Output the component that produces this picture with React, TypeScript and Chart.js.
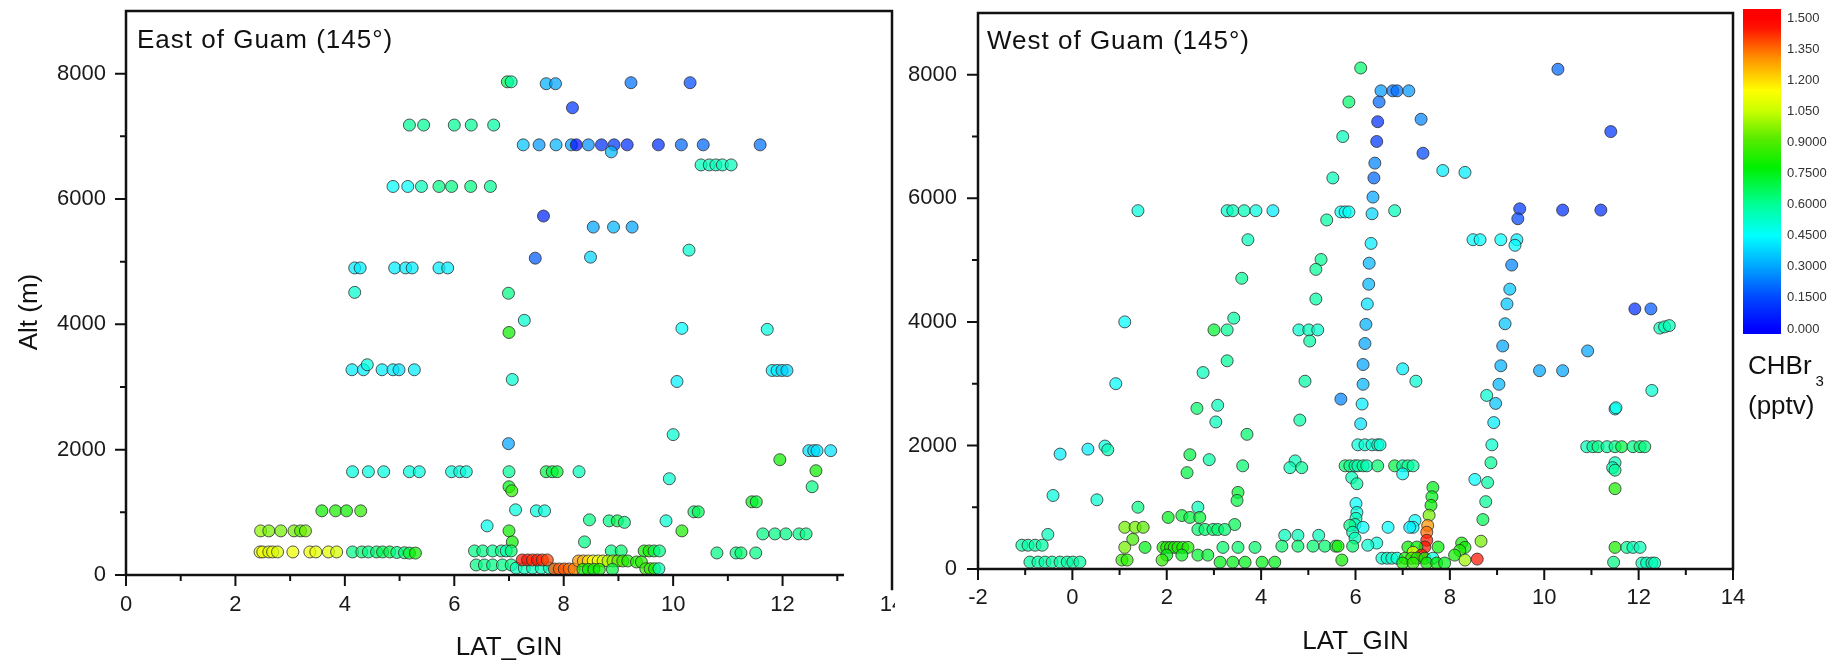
import React, { useEffect, useRef } from 'react';
import { Chart, registerables } from 'chart.js';

Chart.register(...registerables);

const FONT = "'Liberation Sans', Arial, Helvetica, sans-serif";

// ---------- East of Guam ----------
const eastLat = [
  5.18, 5.44, 6.0, 6.31, 6.72,
  4.88, 5.15, 5.4, 5.72, 5.95, 6.3, 6.66,
  4.18, 4.28, 4.91, 5.11, 5.23, 5.72, 5.88, 4.18,
  4.13, 4.34, 4.41, 4.68, 4.88, 4.99, 5.27,
  4.14, 4.43, 4.71, 5.18, 5.36, 5.95, 6.1, 6.22, 7.0, 7.68, 7.79, 7.88, 8.28,
  3.58, 3.83, 4.03, 4.29, 2.46, 2.61, 2.83, 3.07, 3.19, 3.28,
  2.45, 2.5, 2.61, 2.68, 2.77, 3.05, 3.36, 3.47, 3.7, 3.85,
  4.14, 4.31, 4.43, 4.58, 4.69, 4.82, 4.95, 5.09, 5.18, 5.29,
  6.97, 7.04, 7.68, 7.85, 9.23, 10.31, 8.16,
  7.26, 7.55, 7.86, 8.14, 8.23, 8.45, 8.69, 8.92, 9.16, 9.73, 10.15, 10.55, 11.59, 8.87,
  10.51, 10.66, 10.78, 10.9, 11.06, 7.63, 8.54, 8.91, 9.25, 7.48, 8.49, 10.29,
  6.99, 7.28, 7.0, 10.16, 11.72, 7.06, 10.07, 11.81, 11.9, 11.99, 12.08, 10.0, 6.99,
  12.48, 12.57, 12.63, 12.88, 11.95, 12.61, 7.0, 7.05, 12.54, 9.93,
  7.12, 7.5, 7.65, 11.44, 11.52, 10.38, 10.46, 6.6, 7.0, 7.06, 9.87, 8.47, 8.83, 8.98, 9.11, 10.16, 8.38,
  11.64, 11.86, 12.06, 12.3, 12.43, 10.8, 11.15, 11.24, 11.51,
  6.37, 6.52, 6.7, 6.86, 6.95, 7.04, 8.87, 9.05, 9.47, 9.56, 9.65, 9.75,
  6.4, 6.55, 6.7, 6.88, 7.04, 7.13, 7.28, 7.43, 7.59, 7.74,
  7.24, 7.34, 7.43, 7.52, 7.61, 7.7, 7.83, 7.92, 8.01, 8.1, 8.19,
  8.27, 8.36, 8.45, 8.54, 8.63, 8.72, 8.81, 8.9, 8.99, 9.08, 9.17, 9.33, 9.42,
  8.35, 8.45, 8.55, 8.65, 8.89, 9.5, 9.58, 9.66, 9.74,
];
const eastAlt = [
  7180, 7180, 7180, 7180, 7180,
  6200, 6200, 6200, 6200, 6200, 6200, 6200,
  4900, 4900, 4900, 4900, 4900, 4900, 4900, 4510,
  3275, 3275, 3355, 3275, 3275, 3275, 3275,
  1648, 1648, 1648, 1648, 1648, 1648, 1648, 1648, 1648, 1648, 1648, 1648, 1648,
  1024, 1024, 1024, 1024, 704, 704, 704, 704, 704, 704,
  368, 368, 368, 368, 368, 368, 368, 368, 368, 368,
  368, 368, 368, 368, 368, 368, 360, 355, 350, 350,
  7870, 7870, 7840, 7840, 7856, 7856, 7456,
  6864, 6864, 6864, 6864, 6864, 6864, 6864, 6864, 6864, 6864, 6864, 6864, 6864, 6752,
  6544, 6544, 6544, 6544, 6544, 5728, 5552, 5552, 5552, 5056, 5072, 5184,
  4496, 4064, 3870, 3936, 3920, 3120, 3088, 3264, 3264, 3264, 3264, 2240, 2096,
  1984, 1984, 1984, 1984, 1840, 1664, 1408, 1344, 1408, 1536,
  1040, 1024, 1024, 1168, 1168, 1008, 1008, 784, 704, 528, 864, 880, 864, 864, 840, 704, 528,
  656, 656, 656, 656, 656, 352, 352, 352, 352,
  384, 384, 384, 384, 384, 384, 384, 384, 384, 384, 384, 384,
  160, 160, 160, 160, 160, 110, 110, 110, 110, 110,
  240, 240, 240, 240, 240, 240, 96, 96, 96, 96, 96,
  224, 224, 224, 224, 224, 224, 224, 224, 224, 224, 224, 208, 208,
  90, 90, 90, 90, 90, 100, 100, 100, 100,
];
const eastChbr3 = [
  0.6, 0.6, 0.6, 0.6, 0.58,
  0.45, 0.45, 0.55, 0.62, 0.62, 0.62, 0.6,
  0.42, 0.42, 0.42, 0.42, 0.42, 0.42, 0.42, 0.52,
  0.42, 0.42, 0.5, 0.42, 0.42, 0.4, 0.42,
  0.5, 0.5, 0.5, 0.5, 0.5, 0.5, 0.5, 0.5, 0.6, 0.7, 0.7, 0.72, 0.55,
  0.8, 0.82, 0.8, 0.85, 0.98, 0.95, 0.95, 0.95, 0.9, 0.95,
  1.1, 1.12, 1.1, 1.12, 1.08, 1.12, 1.12, 1.1, 1.1, 1.08,
  0.62, 0.65, 0.62, 0.65, 0.68, 0.7, 0.62, 0.65, 0.72, 0.8,
  0.68, 0.58, 0.32, 0.3, 0.22, 0.16, 0.12,
  0.35, 0.28, 0.33, 0.3, 0.03, 0.27, 0.1, 0.12, 0.1, 0.1, 0.2, 0.2, 0.22, 0.33,
  0.55, 0.55, 0.55, 0.55, 0.55, 0.08, 0.3, 0.33, 0.3, 0.18, 0.38, 0.52,
  0.62, 0.52, 0.8, 0.45, 0.5, 0.52, 0.43, 0.42, 0.42, 0.38, 0.38, 0.52, 0.3,
  0.4, 0.4, 0.4, 0.4, 0.8, 0.8, 0.75, 0.85, 0.62, 0.52,
  0.5, 0.5, 0.5, 0.75, 0.72, 0.65, 0.68, 0.48, 0.8, 0.8, 0.52, 0.62, 0.62, 0.7, 0.62, 0.82, 0.62,
  0.62, 0.62, 0.62, 0.62, 0.62, 0.62, 0.62, 0.65, 0.62,
  0.62, 0.62, 0.6, 0.62, 0.55, 0.65, 0.62, 0.65, 0.8, 0.82, 0.7, 0.62,
  0.62, 0.62, 0.62, 0.62, 0.62, 0.55, 0.55, 0.55, 0.55, 0.55,
  1.45, 1.45, 1.42, 1.45, 1.42, 1.4, 1.38, 1.36, 1.38, 1.35, 1.33,
  1.3, 1.25, 1.2, 1.15, 1.12, 1.08, 1.02, 0.98, 0.92, 0.88, 0.82, 0.82, 0.85,
  0.8, 0.8, 0.8, 0.8, 0.7, 0.85, 0.85, 0.82, 0.55,
];

// ---------- West of Guam ----------
const westLat = [
  6.11, 10.29, 6.54, 6.79, 6.88, 7.13, 6.5, 5.86, 6.47, 7.39, 11.41,
  5.73, 6.45, 7.43, 6.41, 7.85, 8.32, 6.39, 5.52, 6.37, 6.35, 6.83,
  5.69, 5.78, 5.86, 5.39, 9.48, 9.44, 10.39, 11.2,
  1.39, 3.28, 3.4, 3.64, 3.89, 4.25, 3.72, 8.49, 8.64, 9.08, 9.42, 9.38, 6.33,
  5.27, 5.16, 9.31, 6.29, 3.59, 6.28, 9.27, 5.16, 6.25, 9.21, 11.92, 12.26, 3.42, 1.11, 6.22, 9.17,
  3.0, 3.28, 4.8, 5.01, 5.2, 5.03, 12.45, 12.55, 12.65, 6.2, 9.12, 10.92,
  3.28, 6.16, 9.08, 7.0, 9.9, 10.39, 2.77, 4.93, 7.28, 0.92, 6.16, 9.04, 12.28, 8.78,
  5.69, 8.97, 6.14, 3.08, 2.64, 11.5, 11.52, 3.04, 4.82, 6.11, 8.93, 3.7,
  6.05, 6.2, 6.35, 6.47, 6.52, 8.89, 10.9, 11.03, 11.14, 11.33, 11.5, 11.64, 11.88, 12.03, 12.13,
  0.33, 0.69, 0.75, -0.26, 2.49, 2.9, 4.72, 4.61, 4.86, 3.61, 11.5, 11.45, 11.5, 8.87,
  5.78, 5.88, 5.99, 6.05, 6.16, 6.24, 6.47, 6.83, 7.0, 7.11, 7.22,
  7.0, 2.43, 5.92, 6.03, 8.53, 8.8, 7.64, 11.5, 3.51, 3.49, -0.41, 0.52, 7.62, 8.76, 6.01, 7.6,
  1.39, 2.66, 6.03, 7.56, 2.03, 2.32, 2.49, 2.7, 6.01, 8.7, 7.26, 3.44, 5.99, 5.88, 7.53,
  1.11, 1.33, 1.5, 6.16, 6.69, 7.22, 7.15, 2.66, 2.81, 2.98, 3.08, 3.23, 5.94, 7.51,
  -0.52, 4.5, 4.78, 5.22, 5.99, 1.28, 7.51, 8.66, 8.25, 6.45, -1.07, -0.94, -0.79, -0.64, 6.26,
  4.44, 4.78, 5.1, 5.35, 5.58, 5.63, 5.94, 1.92, 2.0, 2.08, 2.16, 2.24, 2.34, 2.45, 1.11, 1.54, 3.19, 3.51, 3.87,
  7.47, 8.32, 7.11, 7.3, 7.75, 11.5, 11.75, 11.88, 12.03, 8.21, 7.22, 2.0, 2.32, 2.66, 2.87, 8.1, 7.4,
  6.56, 6.67, 6.77, 6.88, 7.05, 7.19, 7.3, 7.47, 7.64, 8.58, 8.32, 1.05, 1.16, 1.9, 5.71,
  -0.9, -0.73, -0.58, -0.43, -0.26, -0.11, 0.01, 0.16, 3.13, 3.4, 3.66, 4.02, 4.29, 11.47,
  12.07, 12.17, 12.28, 12.34, 7.0, 7.22, 7.51, 7.72, 7.89,
];
const westAlt = [
  8110, 8090, 7740, 7740, 7740, 7740, 7560, 7560, 7240, 7280, 7080,
  7000, 6920, 6730, 6570, 6450, 6420, 6330, 6330, 6020, 5750, 5800,
  5780, 5780, 5780, 5650, 5830, 5670, 5810, 5810,
  5800, 5800, 5800, 5800, 5800, 5800, 5330, 5330, 5330, 5330, 5330, 5240, 5270,
  5010, 4850, 4920, 4950, 4706, 4610, 4530, 4370, 4290, 4290, 4210, 4210, 4060, 4000, 3960, 3970,
  3870, 3870, 3870, 3870, 3870, 3690, 3900, 3920, 3940, 3650, 3610, 3530,
  3370, 3310, 3290, 3240, 3210, 3210, 3180, 3040, 3040, 3000, 2990, 2990, 2890, 2810,
  2750, 2680, 2670, 2650, 2600, 2590, 2610, 2380, 2410, 2350, 2370, 2180,
  2010, 2010, 2010, 2010, 2010, 2010, 1980, 1980, 1980, 1980, 1980, 1980, 1980, 1980, 1980,
  1940, 1990, 1930, 1860, 1850, 1770, 1750, 1640, 1640, 1670, 1720, 1640, 1600, 1720,
  1670, 1670, 1670, 1670, 1670, 1670, 1670, 1670, 1670, 1670, 1670,
  1540, 1560, 1480, 1380, 1450, 1400, 1320, 1300, 1240, 1110, 1190, 1120, 1170, 1090, 1060, 1030,
  1000, 1000, 915, 870, 835, 865, 835, 835, 820, 800, 785, 720, 720, 705, 705,
  675, 675, 675, 675, 675, 675, 675, 640, 640, 640, 640, 640, 595, 595,
  560, 545, 545, 545, 500, 480, 465, 450, 420, 420, 385, 385, 385, 385, 385,
  370, 370, 370, 370, 370, 370, 370, 350, 350, 350, 350, 350, 350, 350, 350, 350, 350, 350, 350,
  355, 350, 355, 355, 355, 350, 350, 350, 350, 300, 270, 225, 225, 225, 225, 225, 225,
  175, 175, 175, 175, 175, 175, 175, 175, 175, 160, 145, 145, 145, 145, 145,
  112, 112, 112, 112, 112, 112, 112, 112, 110, 110, 110, 110, 110, 110,
  96, 96, 96, 96, 96, 96, 96, 96, 96,
];
const westChbr3 = [
  0.65, 0.2, 0.28, 0.22, 0.22, 0.28, 0.2, 0.65, 0.1, 0.25, 0.12,
  0.55, 0.12, 0.15, 0.25, 0.42, 0.42, 0.2, 0.55, 0.3, 0.38, 0.55,
  0.47, 0.45, 0.47, 0.58, 0.12, 0.15, 0.1, 0.1,
  0.5, 0.52, 0.55, 0.55, 0.5, 0.42, 0.55, 0.45, 0.45, 0.45, 0.42, 0.45, 0.42,
  0.6, 0.6, 0.25, 0.33, 0.6, 0.33, 0.35, 0.58, 0.4, 0.35, 0.1, 0.18, 0.58, 0.45, 0.32, 0.35,
  0.72, 0.6, 0.52, 0.55, 0.52, 0.58, 0.55, 0.55, 0.55, 0.3, 0.3, 0.3,
  0.6, 0.3, 0.32, 0.42, 0.3, 0.3, 0.55, 0.58, 0.52, 0.45, 0.33, 0.33, 0.52, 0.52,
  0.25, 0.35, 0.42, 0.55, 0.65, 0.45, 0.48, 0.55, 0.58, 0.4, 0.42, 0.65,
  0.5, 0.52, 0.5, 0.55, 0.5, 0.52, 0.55, 0.6, 0.62, 0.58, 0.62, 0.7, 0.62, 0.65, 0.62,
  0.42, 0.5, 0.55, 0.42, 0.7, 0.58, 0.55, 0.55, 0.6, 0.65, 0.55, 0.55, 0.6, 0.6,
  0.65, 0.62, 0.55, 0.58, 0.6, 0.55, 0.65, 0.7, 0.58, 0.62, 0.58,
  0.45, 0.7, 0.55, 0.58, 0.45, 0.58, 0.75, 0.82, 0.72, 0.7, 0.5, 0.52, 0.75, 0.6, 0.45, 0.78,
  0.62, 0.55, 0.5, 0.95, 0.75, 0.72, 0.7, 0.72, 0.55, 0.68, 0.45, 0.68, 0.55, 0.62, 1.3,
  0.95, 0.95, 0.92, 0.45, 0.45, 0.45, 0.42, 0.65, 0.65, 0.65, 0.65, 0.65, 0.55, 1.35,
  0.55, 0.55, 0.55, 0.55, 0.55, 0.88, 1.45, 0.95, 0.8, 0.5, 0.58, 0.58, 0.58, 0.58, 0.52,
  0.65, 0.65, 0.65, 0.65, 0.7, 0.82, 0.65, 0.82, 0.82, 0.82, 0.82, 0.82, 0.82, 0.82, 0.95, 0.75, 0.65, 0.65, 0.65,
  1.45, 0.8, 0.78, 0.78, 0.78, 0.82, 0.6, 0.55, 0.55, 0.82, 1.12, 0.75, 0.75, 0.72, 0.72, 0.8, 1.45,
  0.52, 0.52, 0.52, 0.52, 0.82, 0.85, 0.82, 0.8, 0.5, 1.45, 1.0, 0.85, 0.85, 0.85, 0.8,
  0.58, 0.58, 0.58, 0.58, 0.58, 0.58, 0.58, 0.58, 0.75, 0.75, 0.75, 0.75, 0.75, 0.62,
  0.55, 0.55, 0.55, 0.55, 0.82, 0.85, 0.8, 0.78, 0.75,
];

// ---------- Axis tick values ----------
const altTicks = [0, 2000, 4000, 6000, 8000];
const eastLatTicks = [0, 2, 4, 6, 8, 10, 12, 14];
const westLatTicks = [-2, 0, 2, 4, 6, 8, 10, 12, 14];

// ---------- Colour scale ----------
const colorbarLabels = ['1.500', '1.350', '1.200', '1.050', '0.9000', '0.7500', '0.6000', '0.4500', '0.3000', '0.1500', '0.000'];
const colorStops: [number, number[]][] = [
  [0.0, [0, 0, 255]],
  [0.15, [0, 70, 255]],
  [0.3, [0, 165, 255]],
  [0.45, [0, 255, 255]],
  [0.6, [0, 255, 150]],
  [0.78, [0, 240, 0]],
  [0.92, [90, 235, 0]],
  [1.05, [200, 255, 0]],
  [1.15, [255, 255, 0]],
  [1.3, [255, 150, 0]],
  [1.45, [255, 20, 0]],
  [1.5, [255, 0, 0]],
];

function colormap(v: number, alpha = 1): string {
  const val = Math.max(0, Math.min(1.5, v));
  for (let i = 0; i < colorStops.length - 1; i++) {
    const [a, ca] = colorStops[i];
    const [b, cb] = colorStops[i + 1];
    if (val >= a && val <= b) {
      const t = (val - a) / (b - a);
      const c = ca.map((x, k) => Math.round(x + (cb[k] - x) * t));
      return `rgba(${c[0]},${c[1]},${c[2]},${alpha})`;
    }
  }
  return `rgba(255,0,0,${alpha})`;
}

type PanelOpts = {
  title: string;
  titleDx: number;
  titleBaseline: number;
  xMin: number;
  xTicks: number[];
  xAxisEnd: number;
  xTickMax: number;
  rightExtend: number;
  padTop: number;
  padRight: number;
  yWidth: number;
  yPad: number;
  xHeight: number;
  xPad: number;
  xTitlePad: number;
  yTitle: boolean;
  colorbar: boolean;
};

function makePlugin(o: PanelOpts) {
  return {
    id: 'frameAndDecor',
    afterDatasetsDraw(chart: any) {
      const { ctx, chartArea: ca, scales } = chart;
      const xs = scales.x;
      const ys = scales.y;
      ctx.save();
      ctx.strokeStyle = '#111';
      ctx.lineWidth = 2.5;
      ctx.lineCap = 'square';
      ctx.beginPath();
      ctx.moveTo(ca.left, ca.bottom);
      ctx.lineTo(ca.left, ca.top);
      ctx.lineTo(ca.right, ca.top);
      ctx.lineTo(ca.right, ca.bottom + o.rightExtend);
      ctx.moveTo(ca.left, ca.bottom);
      ctx.lineTo(xs.getPixelForValue(o.xAxisEnd), ca.bottom);
      ctx.stroke();

      ctx.lineWidth = 2;
      ctx.lineCap = 'butt';
      ctx.beginPath();
      for (let v = o.xMin; v <= o.xTickMax; v += 1) {
        const px = xs.getPixelForValue(v);
        const len = Math.abs(v % 2) === 0 ? 11 : 6;
        ctx.moveTo(px, ca.bottom);
        ctx.lineTo(px, ca.bottom + len);
      }
      for (let v = 0; v <= 8000; v += 1000) {
        const py = ys.getPixelForValue(v);
        const len = v % 2000 === 0 ? 11 : 6;
        ctx.moveTo(ca.left, py);
        ctx.lineTo(ca.left - len, py);
      }
      ctx.stroke();

      ctx.fillStyle = '#111';
      ctx.font = `26px ${FONT}`;
      ctx.textAlign = 'left';
      ctx.textBaseline = 'alphabetic';
      ctx.save();
      try {
        (ctx as any).letterSpacing = '1px';
      } catch (e) {
        /* ignore */
      }
      ctx.fillText(o.title, ca.left + o.titleDx, o.titleBaseline);
      ctx.restore();

      if (o.yTitle) {
        ctx.save();
        ctx.translate(30, 312);
        ctx.rotate(-Math.PI / 2);
        ctx.textAlign = 'center';
        ctx.textBaseline = 'middle';
        ctx.font = `26px ${FONT}`;
        ctx.fillText('Alt (m)', 0, 0);
        ctx.restore();
      }

      if (o.colorbar) {
        const bx = ca.right + 10;
        const bw = 38;
        const top = 9;
        const bot = 334;
        const y15 = 18;
        const y0 = 329;
        for (let y = top; y < bot; y++) {
          const v = (1.5 * (y0 - (y + 0.5))) / (y0 - y15);
          ctx.fillStyle = colormap(v, 1);
          ctx.fillRect(bx, y, bw, 1);
        }
        ctx.fillStyle = '#333';
        ctx.font = `13px ${FONT}`;
        ctx.textAlign = 'left';
        ctx.textBaseline = 'middle';
        colorbarLabels.forEach((lab, i) => {
          const y = y15 + (i * (y0 - y15)) / (colorbarLabels.length - 1);
          ctx.fillText(lab, bx + 44, y);
        });
        ctx.fillStyle = '#111';
        ctx.textBaseline = 'alphabetic';
        ctx.font = `26px ${FONT}`;
        const tx = bx + 5;
        ctx.fillText('CHBr', tx, 374);
        const w = ctx.measureText('CHBr').width;
        ctx.font = `15px ${FONT}`;
        ctx.fillText('3', tx + w + 4, 386);
        ctx.font = `26px ${FONT}`;
        ctx.fillText('(pptv)', tx, 414);
      }
      ctx.restore();
    },
  };
}

function makeConfig(lat: number[], alt: number[], val: number[], o: PanelOpts): any {
  const pts = lat.map((x, i) => ({ x, y: alt[i] }));
  return {
    type: 'scatter',
    data: {
      datasets: [
        {
          data: pts,
          pointRadius: 6,
          pointHoverRadius: 6,
          pointBorderWidth: 1,
          pointBackgroundColor: val.map((v) => colormap(v, 0.72)),
          pointBorderColor: 'rgba(45,45,45,0.8)',
          clip: 10,
        },
      ],
    },
    options: {
      responsive: false,
      maintainAspectRatio: false,
      animation: false,
      events: [],
      layout: {
        autoPadding: false,
        padding: { top: o.padTop, right: o.padRight, bottom: 0, left: 0 },
      },
      plugins: { legend: { display: false }, tooltip: { enabled: false } },
      scales: {
        x: {
          type: 'linear',
          min: o.xMin,
          max: 14,
          grid: { display: false, drawTicks: false },
          border: { display: false },
          afterBuildTicks: (s: any) => {
            s.ticks = o.xTicks.map((value) => ({ value }));
          },
          ticks: {
            padding: o.xPad,
            autoSkip: false,
            maxRotation: 0,
            color: '#1a1a1a',
            font: { family: FONT, size: 22 },
            callback: (v: number) => String(v),
          },
          title: {
            display: true,
            text: 'LAT_GIN',
            color: '#111',
            font: { family: FONT, size: 26 },
            padding: { top: 0, bottom: o.xTitlePad },
          },
          afterFit: (s: any) => {
            s.height = o.xHeight;
            s.paddingLeft = 0;
            s.paddingRight = 0;
          },
        },
        y: {
          type: 'linear',
          min: 0,
          max: 9000,
          grid: { display: false, drawTicks: false },
          border: { display: false },
          afterBuildTicks: (s: any) => {
            s.ticks = altTicks.map((value) => ({ value }));
          },
          ticks: {
            padding: o.yPad,
            autoSkip: false,
            color: '#1a1a1a',
            font: { family: FONT, size: 22 },
            callback: (v: number) => String(v),
          },
          afterFit: (s: any) => {
            s.width = o.yWidth;
            s.paddingTop = 0;
            s.paddingBottom = 0;
          },
        },
      },
    },
    plugins: [makePlugin(o)],
  };
}

const eastOpts: PanelOpts = {
  title: 'East of Guam (145°)',
  titleDx: 11,
  titleBaseline: 48,
  xMin: 0,
  xTicks: eastLatTicks,
  xAxisEnd: 13.1,
  xTickMax: 13,
  rightExtend: 14,
  padTop: 11,
  padRight: 3,
  yWidth: 126,
  yPad: 20,
  xHeight: 89,
  xPad: 17,
  xTitlePad: 1,
  yTitle: true,
  colorbar: false,
};

const westOpts: PanelOpts = {
  title: 'West of Guam (145°)',
  titleDx: 9,
  titleBaseline: 49,
  xMin: -2,
  xTicks: westLatTicks,
  xAxisEnd: 14,
  xTickMax: 14,
  rightExtend: 0,
  padTop: 13,
  padRight: 102,
  yWidth: 83,
  yPad: 21,
  xHeight: 95,
  xPad: 16,
  xTitlePad: 7,
  yTitle: false,
  colorbar: true,
};

export default function App() {
  const leftRef = useRef<HTMLCanvasElement>(null);
  const rightRef = useRef<HTMLCanvasElement>(null);

  useEffect(() => {
    const charts: Chart[] = [];
    if (leftRef.current) charts.push(new Chart(leftRef.current, makeConfig(eastLat, eastAlt, eastChbr3, eastOpts)));
    if (rightRef.current) charts.push(new Chart(rightRef.current, makeConfig(westLat, westAlt, westChbr3, westOpts)));
    return () => charts.forEach((c) => c.destroy());
  }, []);

  return (
    <div style={{ position: 'absolute', left: 0, top: 0, width: 1835, height: 664, background: '#fff', overflow: 'hidden' }}>
      <canvas
        ref={leftRef}
        width={895}
        height={664}
        style={{ position: 'absolute', left: 0, top: 0, width: 895, height: 664 }}
      />
      <canvas
        ref={rightRef}
        width={940}
        height={664}
        style={{ position: 'absolute', left: 895, top: 0, width: 940, height: 664 }}
      />
    </div>
  );
}
